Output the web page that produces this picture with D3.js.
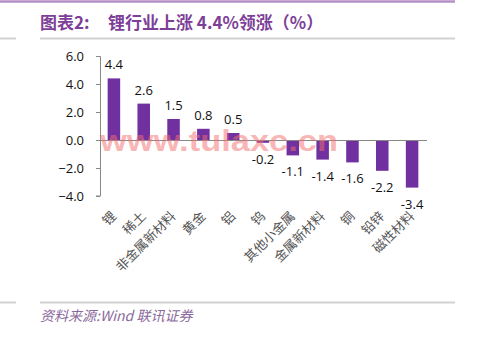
<!DOCTYPE html>
<html>
<head>
<meta charset="utf-8">
<script src="https://cdn.jsdelivr.net/npm/d3@7"></script>
<style>
  html, body { margin: 0; padding: 0; background: #fff; }
  svg { display: block; }
</style>
</head>
<body>
<svg id="chart" width="499" height="343"></svg>
<script>
// Sector returns (%)
const categories = ["锂", "稀土", "非金属新材料", "黄金", "铝", "钨", "其他小金属", "金属新材料", "铜", "铅锌", "磁性材料"];
const values = [4.4, 2.6, 1.5, 0.8, 0.5, -0.2, -1.1, -1.4, -1.6, -2.2, -3.4];
const yTicks = [-4, -2, 0, 2, 4, 6];
const titleText = "图表2:";
const titleMain = "锂行业上涨 4.4%领涨（%）";
const sourceText = "资料来源:Wind  联讯证券";
const watermark = "www.tulaxc.cn";

const svg = d3.select("#chart");
const purple = "#7030A0";
const cjk = "'Noto Sans CJK SC', 'Noto Sans', sans-serif";
const num = "'Open Sans', 'Noto Sans', sans-serif";

// frame lines
svg.append("line").attr("x1", 0).attr("x2", 455).attr("y1", 1.5).attr("y2", 1.5)
  .attr("stroke", "#b48fc6").attr("stroke-width", 2.5);
[38.5, 302.5].forEach(y => {
  svg.append("line").attr("x1", 0).attr("x2", 16).attr("y1", y).attr("y2", y)
    .attr("stroke", "#d2d2d2").attr("stroke-width", 2);
  svg.append("line").attr("x1", 40).attr("x2", 455).attr("y1", y).attr("y2", y)
    .attr("stroke", "#d2d2d2").attr("stroke-width", 2);
});

// title
const title = svg.append("text").attr("x", 40).attr("y", 29)
  .attr("font-family", cjk).attr("font-size", 17).attr("font-weight", "bold")
  .attr("fill", "#7d3f98");
title.append("tspan").text(titleText);
title.append("tspan").attr("x", 108).text(titleMain);

// scales
const x = d3.scaleBand().domain(categories).range([99, 427]).paddingInner(0.58).paddingOuter(0.29);
const y = d3.scaleLinear().domain([-4, 6]).range([196, 56]);

// y axis
const yAxis = d3.axisLeft(y).tickValues(yTicks).tickFormat(d3.format(".1f")).tickSize(4).tickPadding(12);
const ga = svg.append("g").attr("transform", "translate(100,0)").call(yAxis);
ga.select(".domain").attr("stroke", "#888").attr("d", "M-4,56.5H0.5V196H-4");
ga.selectAll(".tick line").attr("stroke", "#888");
ga.selectAll(".tick text").attr("font-family", num).attr("font-size", 13).attr("fill", "#111");

// bars
svg.append("g").selectAll("rect").data(values).join("rect")
  .attr("x", (d, i) => x(categories[i]))
  .attr("width", x.bandwidth())
  .attr("y", d => y(Math.max(0, d)))
  .attr("height", d => Math.abs(y(d) - y(0)))
  .attr("fill", purple);

// zero line
svg.append("line").attr("x1", 100).attr("x2", 427).attr("y1", y(0) + 0.5).attr("y2", y(0) + 0.5)
  .attr("stroke", "#888").attr("stroke-width", 1);

// value labels
svg.append("g").selectAll("text").data(values).join("text")
  .attr("x", (d, i) => x(categories[i]) + x.bandwidth() / 2)
  .attr("y", d => d >= 0 ? y(d) - 9 : y(d) + 21)
  .attr("text-anchor", "middle")
  .attr("font-family", num).attr("font-size", 13).attr("fill", "#111")
  .text(d => d.toFixed(1));

// category labels
svg.append("g").selectAll("text").data(categories).join("text")
  .attr("transform", d => `translate(${x(d) + x.bandwidth() / 2 + 3},${217}) rotate(-45)`)
  .attr("text-anchor", "end")
  .attr("font-family", cjk).attr("font-size", 13).attr("fill", "#555")
  .text(d => d);

// watermark
svg.append("text").attr("x", 100).attr("y", 151)
  .attr("textLength", 238).attr("lengthAdjust", "spacingAndGlyphs")
  .attr("font-family", "'Liberation Sans', Arial, sans-serif").attr("font-size", 30).attr("font-weight", "bold")
  .attr("fill", "rgba(245, 110, 110, 0.5)")
  .text(watermark);

// source
svg.append("text").attr("x", 40).attr("y", 321)
  .attr("font-family", cjk).attr("font-size", 14).attr("font-style", "italic")
  .attr("fill", "#8a6a9c")
  .text(sourceText);
</script>
</body>
</html>
